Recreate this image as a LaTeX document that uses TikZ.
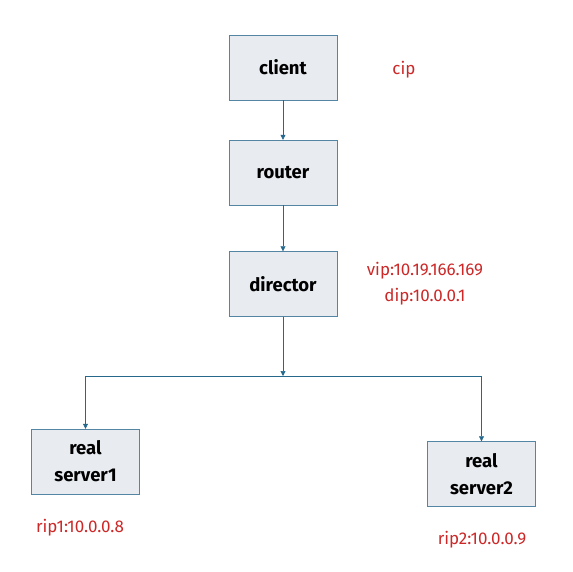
\documentclass[tikz,border=0pt]{standalone}
\usepackage{fontspec}
\setmainfont{Fira Sans}
\usetikzlibrary{arrows.meta}
\definecolor{boxfill}{RGB}{232,236,241}
\definecolor{boxline}{RGB}{84,134,164}
\definecolor{linkcol}{RGB}{38,104,140}
\definecolor{ipred}{RGB}{204,40,40}
\begin{document}
\begin{tikzpicture}[x=1pt, y=-1pt,
		box/.style={draw=boxline, fill=boxfill, minimum width=108pt, minimum height=65pt,
			inner sep=2pt, align=center, font=\bfseries\fontsize{18.5}{27}\selectfont},
		ip/.style={text=ipred, align=center, font=\fontsize{17}{26}\selectfont},
		link/.style={draw=linkcol, semithick, -{Triangle[width=5pt,length=5pt]}}]
	\useasboundingbox (0,0) rectangle (572,572);
	\node[box] (client) at (283,67.5) {client};
	\node[box] (router) at (283,172.5) {router};
	\node[box] (director) at (283,284) {director};
	\node[box] (server1) at (85.5,461.5) {real\\server1};
	\node[box] (server2) at (481.5,474) {real\\server2};
	\node[ip] (cip) at (404,70) {cip};
	\node[ip] (vip) at (425,284) {vip:10.19.166.169\\dip:10.0.0.1};
	\node[ip] (rip1) at (80,528) {rip1:10.0.0.8};
	\node[ip] (rip2) at (482,540) {rip2:10.0.0.9};
	\coordinate (bus) at (283,376);
	% links
	\draw[link] (client) -- (router);
	\draw[link] (router) -- (director);
	\draw[link] (director) -- (bus);
	\draw[link] (bus) -| (server1);
	\draw[link] (bus) -| (server2);
\end{tikzpicture}
\end{document}
